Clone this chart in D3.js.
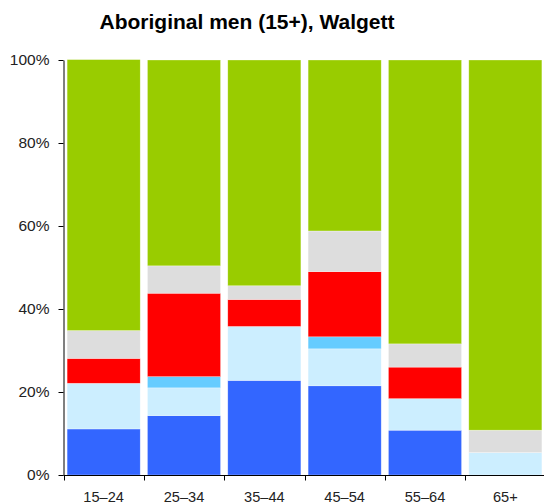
<!DOCTYPE html>
<html>
<head>
<meta charset="utf-8">
<script src="https://cdn.jsdelivr.net/npm/d3@7"></script>
<style>
  body { margin: 0; background: #fff; }
  text { font-family: "Liberation Sans", Arial, sans-serif; }
</style>
</head>
<body>
<svg id="chart"></svg>
<script>
const categories = ["15–24", "25–34", "35–44", "45–54", "55–64", "65+"];
const seriesNames = ["blue", "lightblue", "cyan", "red", "grey", "green"];
const blue = [11.1, 14.3, 22.8, 21.5, 10.8, 0];
const lightblue = [11.0, 6.7, 13.0, 8.9, 7.6, 5.4];
const cyan = [0, 2.7, 0, 2.9, 0, 0];
const red = [6.0, 20.1, 6.5, 15.7, 7.6, 0];
const grey = [6.7, 6.6, 3.3, 9.8, 5.6, 5.4];
const green = [65.3, 49.6, 54.4, 41.2, 68.4, 89.2];
const yTicks = [0, 20, 40, 60, 80, 100];
const colors = ["#3366ff", "#cceeff", "#66ccff", "#ff0000", "#dddddd", "#99cc00"];

const width = 544, height = 504;
const svg = d3.select("#chart").attr("width", width).attr("height", height);

const rows = categories.map((c, i) => ({
  cat: c,
  blue: blue[i], lightblue: lightblue[i], cyan: cyan[i],
  red: red[i], grey: grey[i], green: green[i]
}));
const stacked = d3.stack().keys(seriesNames)(rows);

const x = d3.scaleBand().domain(categories).range([63.5, 545.5])
  .paddingInner(0.09).paddingOuter(0.045);
const y = d3.scaleLinear().domain([0, 100]).range([475, 60]);

// bars
svg.append("g")
  .selectAll("g")
  .data(stacked)
  .enter()
  .append("g")
  .attr("fill", (d, i) => colors[i])
  .selectAll("rect")
  .data(d => d)
  .enter()
  .append("rect")
  .attr("x", d => x(d.data.cat))
  .attr("width", x.bandwidth())
  .attr("y", d => y(d[1]))
  .attr("height", d => y(d[0]) - y(d[1]))
  .attr("stroke", "#ffffff")
  .attr("stroke-opacity", 0.5)
  .attr("stroke-width", 0.6);

// y axis
const yAxis = svg.append("g")
  .attr("transform", "translate(63.5,0)")
  .call(d3.axisLeft(y).tickValues(yTicks).tickFormat(d => d + "%").tickSize(5).tickSizeOuter(0));
yAxis.selectAll("text").attr("font-size", 15.5).attr("fill", "#222").attr("dx", "-6");
yAxis.select(".domain").attr("stroke", "#000");

// x axis
const xTickPos = categories.map(c => x(c) - x.step() * x.paddingInner() / 2);
const xAxis = svg.append("g").attr("transform", "translate(0,475.5)");
xAxis.append("line").attr("x1", 63.5).attr("x2", 545.5).attr("stroke", "#000");
xAxis.selectAll(".tk").data(xTickPos).enter().append("line")
  .attr("x1", d => Math.round(d) + 0.5).attr("x2", d => Math.round(d) + 0.5)
  .attr("y1", 0).attr("y2", 5).attr("stroke", "#000");
xAxis.selectAll(".lbl").data(categories).enter().append("text")
  .attr("x", d => x(d) + x.bandwidth() / 2)
  .attr("y", 26)
  .attr("text-anchor", "middle")
  .attr("font-size", 14.6)
  .attr("fill", "#222")
  .text(d => d);

// title
svg.append("text")
  .attr("x", 247)
  .attr("y", 29)
  .attr("text-anchor", "middle")
  .attr("font-size", 21)
  .attr("font-weight", "bold")
  .text("Aboriginal men (15+), Walgett");
</script>
</body>
</html>
